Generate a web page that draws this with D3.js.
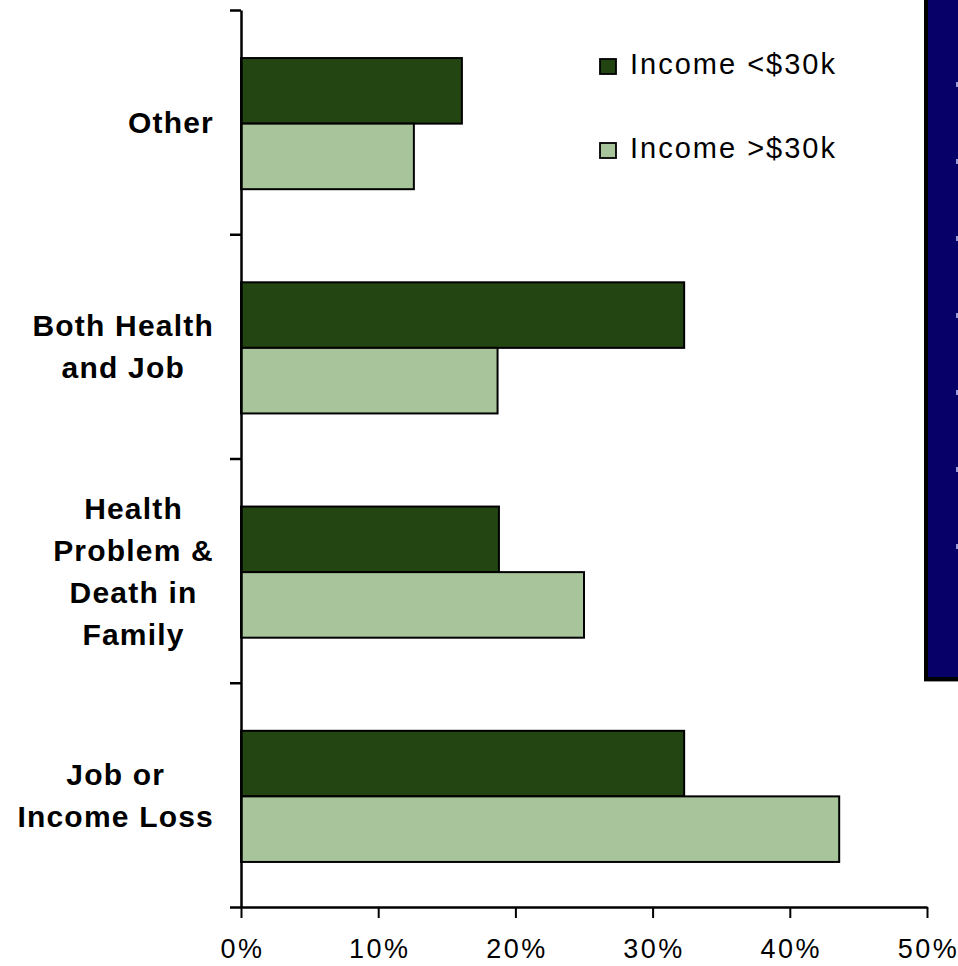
<!DOCTYPE html>
<html>
<head>
<meta charset="utf-8">
<script src="https://cdn.jsdelivr.net/npm/d3@7/dist/d3.min.js"></script>
<style>
  body { margin: 0; background: #fff; }
  svg { display: block; font-family: "Liberation Sans", Arial, sans-serif; }
</style>
</head>
<body>
<div id="chart"></div>
<script>
// categories from bottom to top, each with its wrapped label lines
var categories = ['Job or Income Loss', 'Health Problem & Death in Family', 'Both Health and Job', 'Other'];
var categoryLines = [
    ['Job or', 'Income Loss'],
    ['Health', 'Problem &', 'Death in', 'Family'],
    ['Both Health', 'and Job'],
    ['Other']
];
var seriesNames = ['Income <$30k', 'Income >$30k'];
var lowIncome = [32.3, 18.8, 32.3, 16.1];
var highIncome = [43.6, 25.0, 18.7, 12.6];
var xTicks = [0, 10, 20, 30, 40, 50];
var bulletCount = 7;

var colors = ['#234512', '#a8c49b'];

var width = 958, height = 966;
var plotLeft = 241, plotRight = 927, plotTop = 10, plotBottom = 907;

var svg = d3.select('#chart').append('svg')
    .attr('width', width)
    .attr('height', height);

var x = d3.scaleLinear().domain([0, 50]).range([plotLeft, plotRight]);
var y = d3.scaleBand().domain(categories).range([plotBottom, plotTop]).padding(0);
var inner = d3.scaleBand().domain(seriesNames).range([0, y.bandwidth()])
    .paddingInner(0).paddingOuter(0.71);

var rows = categories.map(function(c, i) {
    return { cat: c, lines: categoryLines[i], vals: [lowIncome[i], highIncome[i]] };
});

// bars
var groups = svg.append('g').selectAll('g.cat')
    .data(rows)
    .enter().append('g')
    .attr('class', 'cat')
    .attr('transform', function(d) { return 'translate(0,' + (y(d.cat) + 1.5) + ')'; });

groups.selectAll('rect')
    .data(function(d) {
        return seriesNames.map(function(s, j) { return { s: s, v: d.vals[j], j: j }; });
    })
    .enter().append('rect')
    .attr('x', x(0))
    .attr('y', function(d) { return inner(d.s); })
    .attr('width', function(d) { return x(d.v) - x(0); })
    .attr('height', inner.bandwidth())
    .attr('fill', function(d) { return colors[d.j]; })
    .attr('stroke', '#000')
    .attr('stroke-width', 2);

// y axis with ticks at the band edges
var yEdge = d3.scaleLinear().domain([0, categories.length]).range([plotBottom, plotTop]);
var yAxis = svg.append('g')
    .attr('transform', 'translate(' + plotLeft + ',0)')
    .call(d3.axisLeft(yEdge).ticks(categories.length).tickFormat('').tickSizeInner(11).tickSizeOuter(0));
yAxis.select('.domain').attr('stroke', '#000').attr('stroke-width', 2.5);
yAxis.selectAll('.tick line').attr('stroke', '#000').attr('stroke-width', 2.5);

// x axis
var xAxis = svg.append('g')
    .attr('transform', 'translate(0,' + plotBottom + ')')
    .call(d3.axisBottom(x).tickValues(xTicks).tickFormat(function(d) { return d + '%'; })
        .tickSizeInner(11).tickSizeOuter(0));
xAxis.select('.domain').attr('stroke', '#000').attr('stroke-width', 2.5);
xAxis.selectAll('.tick line').attr('stroke', '#000').attr('stroke-width', 2);
xAxis.selectAll('.tick text')
    .attr('y', 51)
    .attr('dy', 0)
    .attr('dx', 1)
    .attr('fill', '#000')
    .style('font-size', '27px')
    .style('letter-spacing', '2.5px')
    .style('font-family', '"Liberation Sans", Arial, sans-serif');

// category labels: lines centred inside a block that is right aligned
var lineH = 42;
var labelRight = 214;
rows.forEach(function(r) {
    var cy = y(r.cat) + y.bandwidth() / 2;
    var g = svg.append('g');
    var texts = g.selectAll('text')
        .data(r.lines)
        .enter().append('text')
        .attr('y', function(d, i) { return cy + 11 - (r.lines.length - 1) * lineH / 2 + i * lineH; })
        .attr('text-anchor', 'middle')
        .style('font-size', '30px')
        .style('font-weight', 'bold')
        .style('letter-spacing', '1.2px')
        .text(function(d) { return d; });
    var maxW = 0;
    texts.each(function() { maxW = Math.max(maxW, this.getComputedTextLength()); });
    texts.attr('x', labelRight - maxW / 2);
});

// legend
var legend = svg.append('g').selectAll('g')
    .data(seriesNames)
    .enter().append('g')
    .attr('transform', function(d, i) { return 'translate(600,' + (74 + i * 84) + ')'; });
legend.append('rect')
    .attr('x', 0).attr('y', -15)
    .attr('width', 16).attr('height', 15)
    .attr('fill', function(d, i) { return colors[i]; })
    .attr('stroke', '#000')
    .attr('stroke-width', 1.8);
legend.append('text')
    .attr('x', 30)
    .attr('y', 0)
    .style('font-size', '29px')
    .style('letter-spacing', '2px')
    .text(function(d) { return d; });

// dark blue panel cut off at the right edge
svg.append('rect')
    .attr('x', 924).attr('y', -10)
    .attr('width', 50).attr('height', 691)
    .attr('fill', '#000');
svg.append('line')
    .attr('x1', 924).attr('x2', 958)
    .attr('y1', 681.5).attr('y2', 681.5)
    .attr('stroke', '#999').attr('stroke-width', 1);
svg.append('rect')
    .attr('x', 928).attr('y', -10)
    .attr('width', 40).attr('height', 687)
    .attr('fill', '#060068');
svg.append('g').selectAll('rect')
    .data(d3.range(bulletCount))
    .enter().append('rect')
    .attr('x', 956).attr('width', 3)
    .attr('y', function(d) { return 82 + d * 77; })
    .attr('height', 5)
    .attr('fill', '#9a9ad6');
</script>
</body>
</html>
